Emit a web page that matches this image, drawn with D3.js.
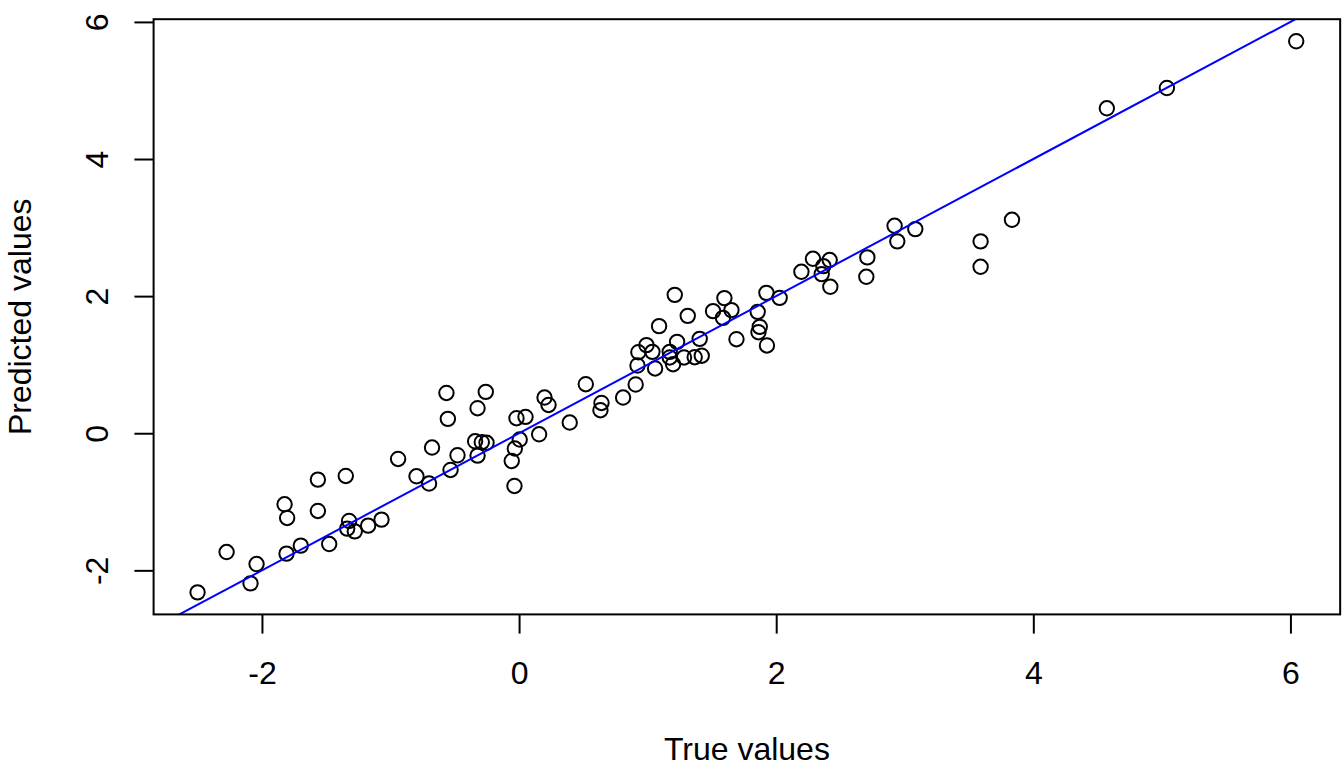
<!DOCTYPE html>
<html>
<head>
<meta charset="utf-8">
<script src="https://cdn.jsdelivr.net/npm/d3@7"></script>
<style>
  html, body { margin: 0; padding: 0; background: #fff; }
  svg { display: block; }
  text { font-family: "Liberation Sans", Arial, Helvetica, sans-serif; }
</style>
</head>
<body>
<div id="chart"></div>
<script>
// ---- data ----
const trueVals = [
  -2.501, -2.275, -2.089, -2.042, -1.824, -1.804, -1.809, -1.698, -1.565, -1.565,
  -1.477, -1.348, -1.322, -1.337, -1.278, -1.174, -1.070, -0.941, -0.798, -0.700,
  -0.677, -0.565, -0.554, -0.533, -0.479, -0.342, -0.323, -0.259, -0.323, -0.290,
  -0.253, -0.057, -0.036, -0.033, 0.005, -0.020, 0.050, 0.156, 0.198, 0.229,
  0.394, 0.519, 0.641, 0.633, 0.809, 0.907, 1.058, 0.921, 0.928, 0.991,
  1.037, 1.089, 1.211, 1.172, 1.172, 1.198, 1.229, 1.283, 1.312, 1.366,
  1.405, 1.421, 1.509, 1.597, 1.652, 1.586, 1.691, 1.856, 1.872, 1.862,
  1.924, 1.928, 2.027, 2.196, 2.286, 2.416, 2.367, 2.354, 2.421, 2.709,
  2.701, 2.921, 2.942, 3.082, 3.590, 3.590, 3.834, 4.572, 5.039, 6.045
];
const predVals = [
  -2.321, -1.733, -2.190, -1.908, -1.036, -1.236, -1.756, -1.639, -0.676, -1.134,
  -1.616, -0.623, -1.280, -1.391, -1.431, -1.347, -1.260, -0.375, -0.628, -0.734,
  -0.209, 0.588, 0.209, -0.536, -0.321, -0.117, 0.365, 0.603, -0.326, -0.131,
  -0.139, -0.404, -0.769, -0.223, -0.092, 0.219, 0.238, -0.015, 0.521, 0.413,
  0.156, 0.715, 0.442, 0.336, 0.521, 0.711, 0.945, 0.988, 1.182, 1.285,
  1.187, 1.562, 2.019, 1.187, 1.105, 1.007, 1.333, 1.105, 1.712, 1.109,
  1.377, 1.131, 1.781, 1.971, 1.796, 1.683, 1.372, 1.771, 1.552, 1.474,
  2.048, 1.280, 1.975, 2.355, 2.545, 2.526, 2.438, 2.321, 2.136, 2.565,
  2.282, 3.026, 2.799, 2.978, 2.799, 2.428, 3.114, 4.740, 5.036, 5.718
];
const xTicks = [-2, 0, 2, 4, 6];
const yTicks = [-2, 0, 2, 4, 6];
const xLabel = "True values";
const yLabel = "Predicted values";
// reference line: intercept 0, slope 1
const ablineA = 0, ablineB = 1;

// ---- layout ----
const W = 1344, H = 768;
const lineH = 38.4;                 // one margin line
const pLeft = 4 * lineH, pRight = W - 0.1 * lineH;
const pTop = 0.5 * lineH, pBottom = H - 4 * lineH;
const fontPx = 32;

function rPad(ext) {
  const d = ext[1] - ext[0];
  return [ext[0] - 0.04 * d, ext[1] + 0.04 * d];
}

const x = d3.scaleLinear().domain(rPad(d3.extent(trueVals))).range([pLeft, pRight]);
const y = d3.scaleLinear().domain(rPad(d3.extent(predVals))).range([pBottom, pTop]);

const svg = d3.select("#chart").append("svg")
  .attr("width", W).attr("height", H)
  .attr("viewBox", `0 0 ${W} ${H}`);

svg.append("rect").attr("width", W).attr("height", H).attr("fill", "#fff");

svg.append("defs").append("clipPath").attr("id", "plotclip")
  .append("rect")
  .attr("x", pLeft).attr("y", pTop)
  .attr("width", pRight - pLeft).attr("height", pBottom - pTop);

// points
svg.append("g")
  .selectAll("circle")
  .data(trueVals.map((t, i) => [t, predVals[i]]))
  .join("circle")
  .attr("cx", d => x(d[0]))
  .attr("cy", d => y(d[1]))
  .attr("r", 7.2)
  .attr("fill", "none")
  .attr("stroke", "#000")
  .attr("stroke-width", 2);

// abline
const xd = x.domain();
svg.append("line")
  .attr("clip-path", "url(#plotclip)")
  .attr("x1", x(xd[0])).attr("y1", y(ablineA + ablineB * xd[0]))
  .attr("x2", x(xd[1])).attr("y2", y(ablineA + ablineB * xd[1]))
  .attr("stroke", "#0000ff")
  .attr("stroke-width", 2);

// box
svg.append("rect")
  .attr("x", pLeft).attr("y", pTop)
  .attr("width", pRight - pLeft).attr("height", pBottom - pTop)
  .attr("fill", "none").attr("stroke", "#000").attr("stroke-width", 2);

// x axis
const gx = svg.append("g")
  .attr("transform", `translate(0,${pBottom})`)
  .call(d3.axisBottom(x).tickValues(xTicks).tickSize(0.5 * lineH).tickFormat(d3.format("d")));
gx.select(".domain").remove();
gx.selectAll(".tick line").attr("stroke", "#000").attr("stroke-width", 2);
gx.selectAll(".tick text")
  .attr("y", 1.8 * lineH).attr("dy", null)
  .attr("fill", "#000")
  .style("font-size", fontPx + "px")
  .style("font-family", '"Liberation Sans", Arial, sans-serif')
  .text(d => (d < 0 ? "-" : "") + Math.abs(d));

// y axis
const gy = svg.append("g")
  .attr("transform", `translate(${pLeft},0)`)
  .call(d3.axisLeft(y).tickValues(yTicks).tickSize(0.5 * lineH).tickFormat(d3.format("d")));
gy.select(".domain").remove();
gy.selectAll(".tick line").attr("stroke", "#000").attr("stroke-width", 2);
gy.selectAll(".tick text")
  .attr("x", null).attr("dy", null).attr("y", null)
  .attr("transform", `translate(${-1.2 * lineH},0) rotate(-90)`)
  .attr("text-anchor", "middle")
  .attr("fill", "#000")
  .style("font-size", fontPx + "px")
  .style("font-family", '"Liberation Sans", Arial, sans-serif')
  .text(d => (d < 0 ? "-" : "") + Math.abs(d));

// axis titles
svg.append("text")
  .attr("x", (pLeft + pRight) / 2)
  .attr("y", pBottom + 3.8 * lineH)
  .attr("text-anchor", "middle")
  .style("font-size", fontPx + "px")
  .text(xLabel);

svg.append("text")
  .attr("transform", `translate(${pLeft - 3.2 * lineH},${(pTop + pBottom) / 2}) rotate(-90)`)
  .attr("text-anchor", "middle")
  .style("font-size", fontPx + "px")
  .text(yLabel);
</script>
</body>
</html>
